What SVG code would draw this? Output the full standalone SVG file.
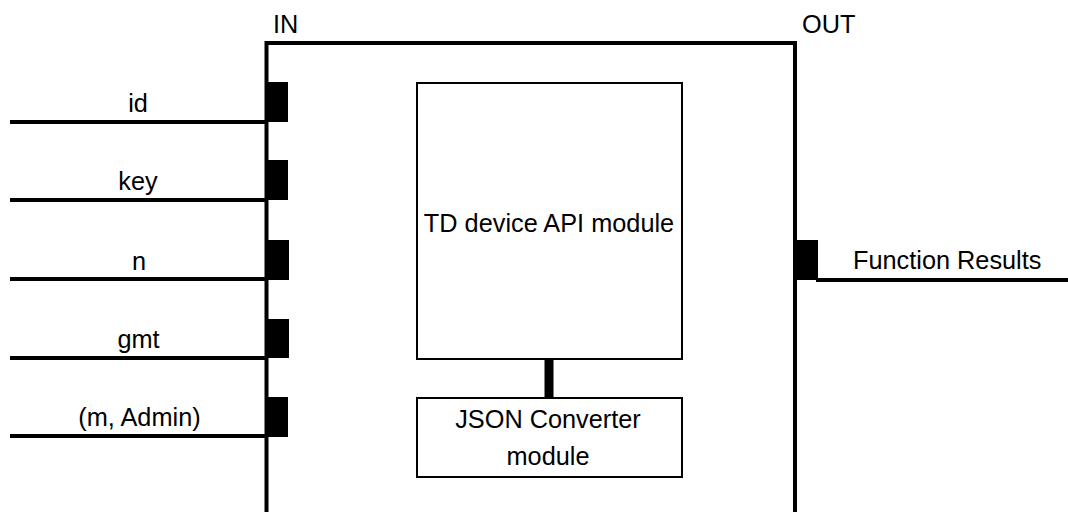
<svg xmlns="http://www.w3.org/2000/svg" width="1068" height="512" viewBox="0 0 1068 512">
  <style>
    .wire { stroke: #000; stroke-width: 4; fill: none; }
    .port { fill: #000; }
    .box { fill: #fff; stroke: #000; stroke-width: 2; }
    .lbl { font-family: "Liberation Sans", Arial, sans-serif; font-size: 25.3px; fill: #000; }
    .mid { text-anchor: middle; }
  </style>
  <rect width="1068" height="512" fill="#fff"/>

  <!-- outer function block (open at bottom) -->
  <g id="block">
    <path class="wire" d="M266.5,512 V43 H795 V512"/>
    <text class="lbl" x="273" y="33">IN</text>
    <text class="lbl" x="802" y="33">OUT</text>
  </g>

  <!-- input and output signals -->
  <g id="connectors">
    <line class="wire" x1="10" y1="122" x2="266" y2="122"/>
    <line class="wire" x1="10" y1="200" x2="266" y2="200"/>
    <line class="wire" x1="10" y1="279" x2="266" y2="279"/>
    <line class="wire" x1="10" y1="358" x2="266" y2="358"/>
    <line class="wire" x1="10" y1="436" x2="266" y2="436"/>
    <line class="wire" x1="816" y1="280" x2="1068" y2="280"/>
    <rect class="port" x="544.5" y="358" width="9" height="40"/>
  </g>

  <g id="in-id">
    <rect class="port" x="265" y="82" width="23" height="40"/>
    <text class="lbl mid" x="138" y="112">id</text>
  </g>
  <g id="in-key">
    <rect class="port" x="265" y="160" width="23" height="40"/>
    <text class="lbl mid" x="138" y="190">key</text>
  </g>
  <g id="in-n">
    <rect class="port" x="265" y="240" width="24" height="40"/>
    <text class="lbl mid" x="139" y="270">n</text>
  </g>
  <g id="in-gmt">
    <rect class="port" x="265" y="319" width="24" height="39"/>
    <text class="lbl mid" x="138.5" y="348">gmt</text>
  </g>
  <g id="in-m-admin">
    <rect class="port" x="265" y="397" width="23" height="40"/>
    <text class="lbl mid" x="139.5" y="426">(m, Admin)</text>
  </g>

  <g id="out-results">
    <rect class="port" x="795" y="240" width="23" height="40"/>
    <text class="lbl" x="853" y="269">Function Results</text>
  </g>

  <g id="td-device-api">
    <rect class="box" x="417" y="83" width="265" height="276"/>
    <text class="lbl mid" x="549" y="232">TD device API module</text>
  </g>

  <g id="json-converter">
    <rect class="box" x="417" y="398" width="265" height="79"/>
    <text class="lbl mid" x="548" y="428">JSON Converter</text>
    <text class="lbl mid" x="548" y="465">module</text>
  </g>
</svg>
